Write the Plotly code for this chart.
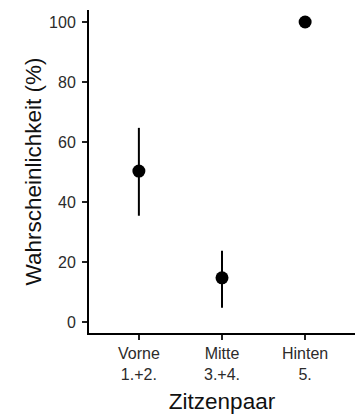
import plotly.graph_objects as go

# Teat pairs and estimated probabilities with confidence limits
categories = ["Vorne<br>1.+2.", "Mitte<br>3.+4.", "Hinten<br>5."]
estimate = [50.3, 14.7, 100.0]
upper = [64.7, 23.7, 100.0]
lower = [35.4, 4.7, 100.0]
y_ticks = [0, 20, 40, 60, 80, 100]

err_plus = [u - e for u, e in zip(upper, estimate)]
err_minus = [e - l for e, l in zip(estimate, lower)]

font_family = "Liberation Sans, Arial, sans-serif"

fig = go.Figure(
    go.Scatter(
        x=categories,
        y=estimate,
        mode="markers",
        marker=dict(color="black", size=13),
        error_y=dict(
            type="data",
            symmetric=False,
            array=err_plus,
            arrayminus=err_minus,
            width=0,
            thickness=2,
            color="black",
        ),
        showlegend=False,
    )
)

fig.update_layout(
    width=358,
    height=417,
    margin=dict(l=89, r=3, t=10, b=84),
    paper_bgcolor="white",
    plot_bgcolor="white",
    font=dict(family=font_family, color="black"),
)

fig.update_xaxes(
    type="category",
    range=[-0.6, 2.6],
    showline=True,
    linecolor="black",
    linewidth=2,
    ticks="outside",
    ticklen=5,
    tickwidth=2,
    tickcolor="#222222",
    tickfont=dict(size=16, color="#2b2b2b"),
    showgrid=False,
    zeroline=False,
    title=dict(text="Zitzenpaar", font=dict(size=22.5, color="#111111"), standoff=11),
)

fig.update_yaxes(
    range=[-3.7, 104],
    tickvals=y_ticks,
    showline=True,
    linecolor="black",
    linewidth=2,
    ticks="outside",
    ticklen=5,
    tickwidth=2,
    tickcolor="#222222",
    tickfont=dict(size=16, color="#2b2b2b"),
    ticklabelstandoff=3,
    showgrid=False,
    zeroline=False,
    title=dict(text="Wahrscheinlichkeit (%)", font=dict(size=22.5, color="#111111"), standoff=1),
)

fig.write_html("out.html")
